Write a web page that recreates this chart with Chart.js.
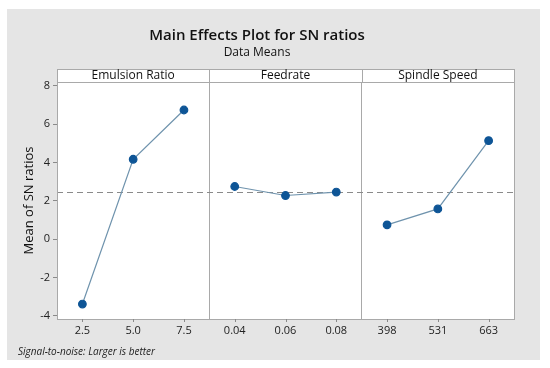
<!DOCTYPE html>
<html>
<head>
<meta charset="utf-8">
<script src="https://cdn.jsdelivr.net/npm/chart.js@4"></script>
<style>
  html, body { margin: 0; padding: 0; background: #ffffff; }
  #wrap { width: 550px; height: 368px; }
</style>
</head>
<body>
<div id="wrap"><canvas id="c" width="550" height="368"></canvas></div>
<script>
// ---- data ----
const factorNames = ['Emulsion Ratio', 'Feedrate', 'Spindle Speed'];
const emulsionLevels = ['2.5', '5.0', '7.5'];
const emulsionMeans = [-3.38, 4.17, 6.74];
const feedLevels = ['0.04', '0.06', '0.08'];
const feedMeans = [2.75, 2.28, 2.46];
const spindleLevels = ['398', '531', '663'];
const spindleMeans = [0.75, 1.58, 5.14];
const overallMean = 2.47;
const yTickValues = [-4, -2, 0, 2, 4, 6, 8];
const yMin = -4.16, yMax = 8.2;
const chartTitle = 'Main Effects Plot for SN ratios';
const chartSubtitle = 'Data Means';
const yTitle = 'Mean of SN ratios';
const footnote = 'Signal-to-noise: Larger is better';

const levelGroups = [emulsionLevels, feedLevels, spindleLevels];
const meanGroups = [emulsionMeans, feedMeans, spindleMeans];
const allLabels = [].concat(...levelGroups);

const FONT = '"Open Sans", "Noto Sans", sans-serif';
const markerColor = '#0e5596';
const lineColor = '#6f93ad';
const frameColor = '#a9a9a9';

const datasets = levelGroups.map((levels, g) => ({
  label: factorNames[g],
  data: levels.map((lv, i) => ({ x: lv, y: meanGroups[g][i] })),
  borderColor: lineColor,
  borderWidth: 1.2,
  pointBackgroundColor: markerColor,
  pointBorderColor: markerColor,
  pointRadius: 3.8,
  pointHoverRadius: 3.8,
  tension: 0
}));

const decor = {
  id: 'decor',
  beforeDraw(chart) {
    const { ctx, chartArea: a } = chart;
    ctx.save();
    ctx.fillStyle = '#ffffff';
    ctx.fillRect(0, 0, chart.width, chart.height);
    ctx.fillStyle = '#e5e5e5';
    ctx.fillRect(7, 9, 533, 351);
    ctx.fillStyle = '#ffffff';
    ctx.fillRect(a.left, a.top, a.right - a.left, a.bottom - a.top);
    ctx.restore();
  },
  beforeDatasetsDraw(chart) {
    const { ctx, chartArea: a, scales } = chart;
    const y = scales.y.getPixelForValue(overallMean);
    ctx.save();
    ctx.strokeStyle = '#8a8a8a';
    ctx.lineWidth = 1;
    ctx.setLineDash([6, 4]);
    ctx.beginPath();
    ctx.moveTo(a.left, Math.round(y) + 0.5);
    ctx.lineTo(a.right, Math.round(y) + 0.5);
    ctx.stroke();
    ctx.restore();
  },
  afterDraw(chart) {
    const { ctx, chartArea: a, scales } = chart;
    const xs = scales.x;
    ctx.save();
    // frame
    ctx.strokeStyle = frameColor;
    ctx.lineWidth = 1;
    ctx.strokeRect(Math.round(a.left) + 0.5, Math.round(a.top) + 0.5,
                   Math.round(a.right - a.left), Math.round(a.bottom - a.top));
    // strip header
    const stripH = 13;
    const top = Math.round(a.top) - stripH;
    ctx.fillStyle = '#ffffff';
    ctx.fillRect(a.left, top, a.right - a.left, stripH);
    ctx.strokeRect(Math.round(a.left) + 0.5, top + 0.5,
                   Math.round(a.right - a.left), stripH);
    const n = levelGroups[0].length;
    const half = (xs.getPixelForValue(1) - xs.getPixelForValue(0)) / 2;
    ctx.font = '500 12px ' + FONT;
    ctx.fillStyle = '#111111';
    ctx.textAlign = 'center';
    ctx.textBaseline = 'middle';
    factorNames.forEach((name, g) => {
      const l = xs.getPixelForValue(g * n) - half;
      const r = xs.getPixelForValue(g * n + n - 1) + half;
      if (g > 0) {
        ctx.beginPath();
        ctx.moveTo(Math.round(l) + 0.5, top);
        ctx.lineTo(Math.round(l) + 0.5, a.top);
        ctx.stroke();
      }
      ctx.fillText(name, (l + r) / 2, top + stripH / 2 + 0.5);
    });
    // small x tick marks under each level
    ctx.strokeStyle = '#8a8a8a';
    allLabels.forEach((lb, i) => {
      const x = Math.round(xs.getPixelForValue(i)) + 0.5;
      ctx.beginPath();
      ctx.moveTo(x, a.bottom);
      ctx.lineTo(x, a.bottom + 3);
      ctx.stroke();
    });
    // footnote
    ctx.font = 'italic 10px ' + FONT;
    ctx.fillStyle = '#222222';
    ctx.textAlign = 'left';
    ctx.textBaseline = 'middle';
    ctx.fillText(footnote, 18, 352);
    ctx.restore();
  }
};

new Chart(document.getElementById('c'), {
  type: 'line',
  data: { labels: allLabels, datasets },
  options: {
    responsive: false,
    animation: false,
    layout: { padding: { left: 0, right: 36, top: 0, bottom: 0 } },
    plugins: {
      legend: { display: false },
      tooltip: { enabled: false },
      title: {
        display: true, text: chartTitle,
        color: '#111111',
        font: { family: FONT, size: 15, weight: '600', lineHeight: 1 },
        padding: { top: 28, bottom: 0 }
      },
      subtitle: {
        display: true, text: chartSubtitle,
        color: '#111111',
        font: { family: FONT, size: 12, weight: '500', lineHeight: 1 },
        padding: { top: 4, bottom: 23 }
      }
    },
    scales: {
      x: {
        type: 'category',
        offset: true,
        grid: {
          offset: true,
          drawTicks: false,
          color: (ctx) => (ctx.index === 3 || ctx.index === 6) ? frameColor : 'rgba(0,0,0,0)',
          lineWidth: 1
        },
        border: { display: false },
        ticks: {
          color: '#222222',
          font: { family: FONT, size: 11, weight: '500' },
          padding: 5,
          autoSkip: false,
          maxRotation: 0
        },
        afterFit(scale) { scale.height = 49; }
      },
      y: {
        type: 'linear',
        min: yMin, max: yMax,
        afterBuildTicks(scale) { scale.ticks = yTickValues.map(v => ({ value: v })); },
        grid: { drawOnChartArea: false, drawTicks: true, tickLength: 4, tickColor: '#8a8a8a' },
        border: { display: false },
        ticks: {
          color: '#222222',
          font: { family: FONT, size: 11, weight: '500' },
          padding: 3
        },
        title: {
          display: true, text: yTitle,
          color: '#111111',
          font: { family: FONT, size: 13, lineHeight: 1.2 },
          padding: { top: 21, bottom: 0 }
        },
        afterFit(scale) { scale.width = 57; }
      }
    }
  },
  plugins: [decor]
});
</script>
</body>
</html>
